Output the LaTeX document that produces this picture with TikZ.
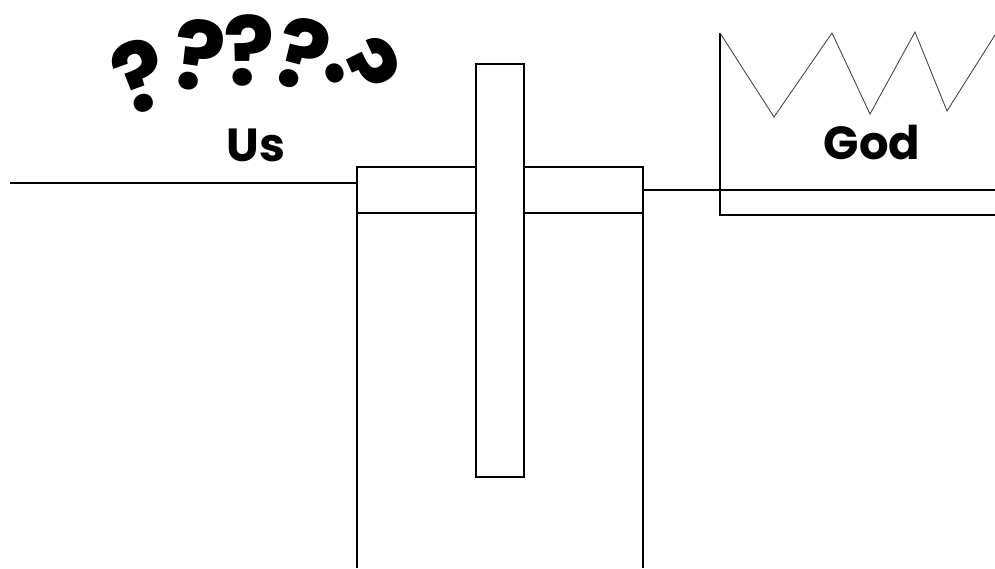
\documentclass[tikz,border=0pt]{standalone}
\usepackage{fontspec}
\setsansfont{Poppins}
\usepackage{tikz}
\usetikzlibrary{positioning}

\begin{document}
\begin{tikzpicture}[
    x=0.025cm, y=-0.025cm,
    wall/.style={draw=black, line width=1pt},
    bar/.style={draw=black, fill=white, line width=1pt},
    crown/.style={draw=black!75, line width=0.6pt, line join=miter},
    label/.style={font=\sffamily\bfseries\fontsize{33}{38}\selectfont},
    ask/.style={font=\sffamily\bfseries\fontsize{68}{72}\selectfont, inner sep=0pt}
]
\useasboundingbox (0,0) rectangle (995,568);

% Ground lines
\coordinate (leftend) at (10,183);
\coordinate (rightend) at (995,190);
\draw[wall] (leftend) -- (357,183);

% Well
\draw[wall] (357,568) -- (357,167) -- (643,167) -- (643,568);
\draw[wall] (357,213) -- (643,213);
\draw[wall] (643,190) -- (rightend);

% Post
\draw[bar] (476,64) rectangle (524,477);

% Throne
\draw[wall] (720,33) -- (720,215) -- (995,215);
\draw[crown] (720,33) -- (774,117) -- (832,33) -- (870,114)
    -- (915,32) -- (947,111) -- (995,35);

% Labels
\node[label] (us) at (256,145) {Us};
\node[label] (god) at (872,143) {God};

% Question marks
\node[ask, rotate=20] (q1) at (141,76) {?};
\node[ask, rotate=-8] (q2) at (199,55) {?};
\node[ask] (q3) at (249,50) {?};
\node[ask, rotate=-15] (q4) at (302,54) {?};
\node[ask, rotate=-65] (q5) at (362,68) {?};

\end{tikzpicture}
\end{document}
